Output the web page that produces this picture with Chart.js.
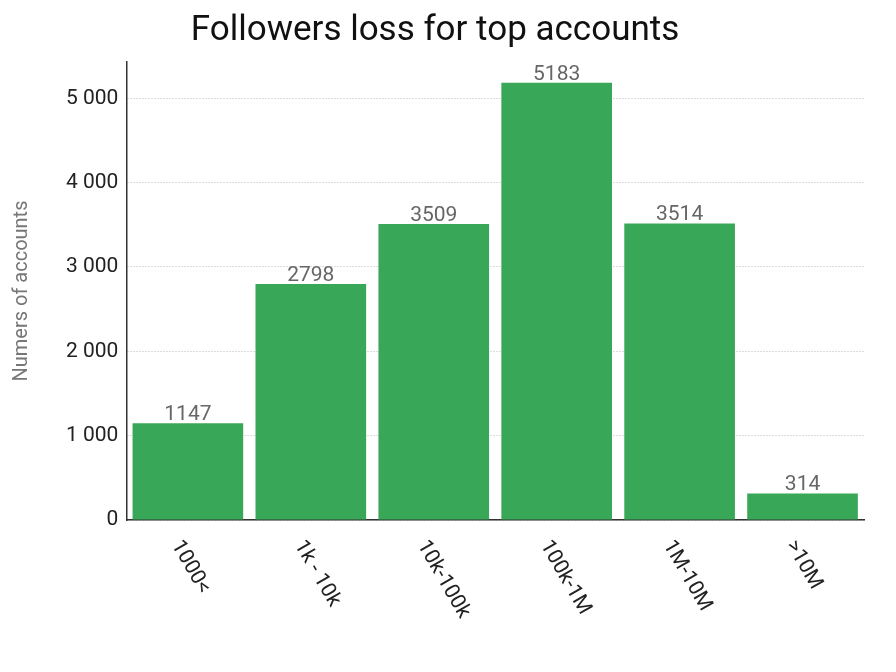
<!DOCTYPE html>
<html><head><meta charset="utf-8">
<script src="https://cdn.jsdelivr.net/npm/chart.js@4/dist/chart.umd.min.js"></script>
<style>html,body{margin:0;padding:0;background:#fff}#w{width:896px;height:672px}</style>
</head><body><div id="w"><canvas id="c"></canvas></div>
<script>
const categories = ["1000<", "1k - 10k", "10k-100k", "100k-1M", "1M-10M", ">10M"];
const values = [1147, 2798, 3509, 5183, 3514, 314];
const yTicks = [0, 1000, 2000, 3000, 4000, 5000];

const labelPlugin = {
  id: 'labels',
  afterDatasetsDraw(chart) {
    const ctx = chart.ctx;
    const meta = chart.getDatasetMeta(0);
    ctx.save();
    ctx.font = '21px Roboto';
    ctx.fillStyle = '#666';
    ctx.textAlign = 'center';
    ctx.textBaseline = 'bottom';
    meta.data.forEach((b, i) => ctx.fillText(String(values[i]), b.x, b.y + 2));
    const xs = chart.scales.x, bottom = chart.chartArea.bottom;
    ctx.fillStyle = '#222';
    ctx.textAlign = 'left';
    ctx.textBaseline = 'middle';
    categories.forEach((c, i) => {
      const x = xs.getPixelForValue(i);
      ctx.save();
      ctx.translate(x - 12, bottom + 22);
      ctx.rotate(Math.PI / 3);
      ctx.fillText(c, 0, 0);
      ctx.restore();
    });
    ctx.restore();
  }
};

new Chart(document.getElementById('c'), {
  type: 'bar',
  data: { labels: categories, datasets: [{ data: values, backgroundColor: '#38a758', barPercentage: 0.9, categoryPercentage: 1 }] },
  options: {
    responsive: true, maintainAspectRatio: false, animation: false,
    layout: { padding: { left: 6, right: 32, top: 0, bottom: 152 } },
    plugins: {
      legend: { display: false }, tooltip: { enabled: false },
      title: { display: true, text: 'Followers loss for top accounts', color: '#111', font: { family: 'Roboto', size: 35, weight: 'normal' }, padding: { top: 10, bottom: 10 } }
    },
    scales: {
      x: { ticks: { display: false }, grid: { display: false, drawTicks: false }, border: { color: '#333', width: 1.5 } },
      y: {
        min: 0, max: 5430,
        afterBuildTicks(s) { s.ticks = yTicks.map(v => ({ value: v })); },
        ticks: { color: '#222', font: { family: 'Roboto', size: 21 }, padding: 8,
          callback: v => v >= 1000 ? Math.floor(v / 1000) + ' ' + String(v % 1000).padStart(3, '0') : String(v) },
        grid: { color: '#bbb', drawTicks: false, lineWidth: 1 },
        border: { color: '#333', width: 1.5, dash: [1, 2] },
        title: { display: true, text: 'Numers of accounts', color: '#777', font: { family: 'Roboto', size: 20 }, padding: { bottom: 24 } }
      }
    }
  },
  plugins: [labelPlugin]
});
</script></body></html>
